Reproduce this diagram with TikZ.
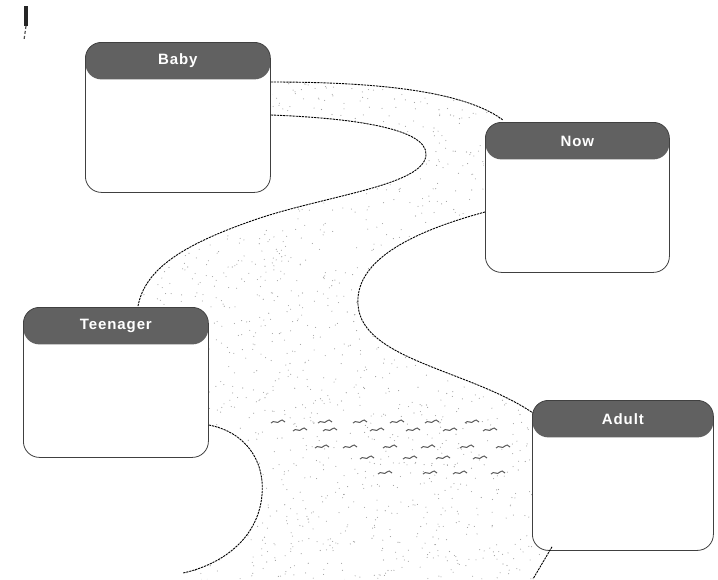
\documentclass[tikz,border=0pt]{standalone}
\usepackage{fontspec}
\setmainfont{Liberation Sans}
\newfontfamily\hdrfont[LetterSpace=6]{Liberation Sans}
\begin{document}
\begin{tikzpicture}[x=1pt,y=-1pt,
  lifebox/.style={rectangle, rounded corners=16pt, draw=black!75, line width=0.8pt,
    fill=white, minimum width=185pt, minimum height=150pt, inner sep=0pt, anchor=north west,
    path picture={\fill[black!62] (path picture bounding box.north west) rectangle ([yshift=-37pt]path picture bounding box.north east);}},
  hdrtext/.style={text=white, font=\hdrfont\bfseries\fontsize{15}{17}\selectfont, inner sep=0pt},
  road/.style={black, line width=0.9pt, dash pattern=on 2.2pt off 0.9pt},
  wave/.pic={\draw[black!65, line width=1pt] (-7,1) .. controls (-4,-3) and (-1,3) .. (2,-1) .. controls (3,-3) and (5,-2) .. (7,0);}
]
\useasboundingbox (0,0) rectangle (718,579);
% stippled road
\begin{scope}
  \clip (272,82) .. controls (360,82) and (460,88) .. (503,120) -- (484,125) -- (484,212)
     .. controls (400,235) and (355,265) .. (358,305) .. controls (362,360) and (470,370) .. (533,413)
     -- (532,550) -- (552,546) -- (533,579) -- (183,579) -- (183,573)
     .. controls (220,565) and (258,540) .. (262,495) .. controls (265,460) and (245,432) .. (208,425)
     -- (208,307) -- (138,306)
     .. controls (145,270) and (180,245) .. (260,218) .. controls (330,195) and (424,185) .. (426,155)
     .. controls (428,128) and (350,118) .. (272,115) -- cycle;
  \pgfmathsetseed{7}
  \foreach \i in {1,...,2000}{
    \fill[black!38] ({135+430*rnd},{80+500*rnd}) circle (0.55);
  }
\end{scope}
% waves
\foreach \x/\y in {278/422,325/422,360/422,397/422,432/422,472/422,
  300/430,330/430,377/430,413/430,450/430,490/430,
  322/447,350/447,390/447,428/447,467/447,503/447,
  367/458,410/458,443/458,480/458,
  385/473,430/473,460/473,498/473}
  \pic at (\x,\y) {wave};
% boxes
\node[lifebox] (baby) at (85,42) {};
\node[lifebox, minimum width=184pt] (now) at (485,122) {};
\node[lifebox] (teen) at (23,307) {};
\node[lifebox, minimum width=181pt] (adult) at (532,400) {};
\node[hdrtext] (babyt) at ([yshift=-19pt]baby.north) {Baby};
\node[hdrtext] (nowt) at ([yshift=-19pt]now.north) {Now};
\node[hdrtext] (teent) at ([yshift=-19pt]teen.north) {Teenager};
\node[hdrtext] (adultt) at ([yshift=-19pt]adult.north) {Adult};
% road edges
\coordinate (eA) at (503,120);
\coordinate (eB) at (138,306);
\coordinate (eC) at (533,413);
\coordinate (eD) at (183,573);
\coordinate (eE) at (533,579);
\draw[road] ([yshift=-40pt]baby.north east) .. controls (360,82) and (460,88) .. (eA);
\draw[road] ([yshift=-73pt]baby.north east) .. controls (350,118) and (428,128) .. (426,155)
   .. controls (424,185) and (330,195) .. (260,218) .. controls (180,245) and (145,270) .. (eB);
\draw[road] ([yshift=-90pt]now.north west) .. controls (400,235) and (355,265) .. (358,305)
   .. controls (362,360) and (470,370) .. (eC);
\draw[road] ([yshift=-118pt]teen.north east) .. controls (245,432) and (265,460) .. (262,495)
   .. controls (258,540) and (220,565) .. (eD);
\draw[road] ([xshift=20pt,yshift=4pt]adult.south west) -- (eE);
% small mark top left
\coordinate (m1) at (26,6);
\coordinate (m2) at (26,26);
\coordinate (m3) at (24,40);
\draw[line width=3.5pt, black!85] (m1) -- (m2);
\draw[line width=1.2pt, black!70, dash pattern=on 3pt off 2pt] (m2) -- (m3);
\end{tikzpicture}
\end{document}
